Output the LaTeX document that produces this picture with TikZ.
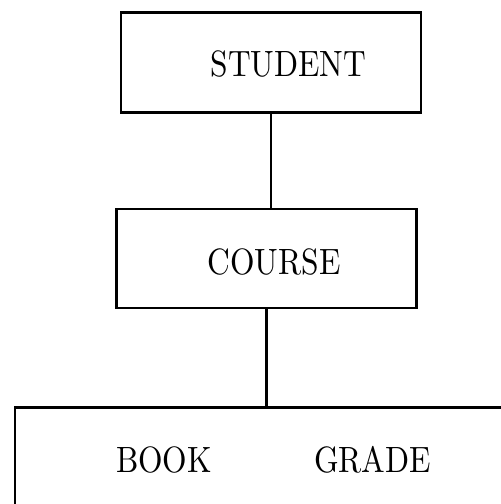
\documentclass[tikz,border=0pt]{standalone}
\usepackage{graphicx}
\newcommand{\narrowtext}[1]{\scalebox{1.574}[1.83]{#1}}
\begin{document}
\begin{tikzpicture}[
    x=0.5pt, y=-0.5pt,
    entity/.style={draw=black, line width=1.4pt, inner sep=0pt},
    fieldname/.style={font=\normalsize, inner sep=0pt},
    link/.style={draw=black, line width=1.4pt},
]
    \useasboundingbox (0,0) rectangle (501,504);
    \clip (0,0) rectangle (501,504);

    % Record boxes
    \node[entity, minimum width=150pt, minimum height=50pt] (student) at (271,62.5) {};
    \node[entity, minimum width=150pt, minimum height=49.5pt] (course) at (266.5,258.5) {};
    \node[entity, anchor=north west, minimum width=300pt, minimum height=100pt] (detail) at (13.5,406) {};

    % Field names
    \node[fieldname] (studentname) at (288.5,64) {\narrowtext{STUDENT}};
    \node[fieldname] (coursename) at (274,262) {\narrowtext{COURSE}};
    \node[fieldname] (bookname) at (164,460) {\narrowtext{BOOK}};
    \node[fieldname] (gradename) at (372.5,460) {\narrowtext{GRADE}};

    % Parent-child links
    \draw[link] (student.south) -- (student.south |- course.north);
    \draw[link] (course.south) -- (course.south |- detail.north);
\end{tikzpicture}
\end{document}
